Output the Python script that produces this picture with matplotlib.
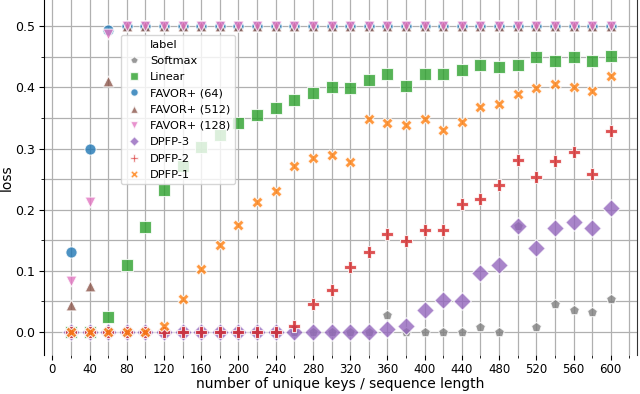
import numpy as np
import matplotlib
matplotlib.use("Agg")
import matplotlib.pyplot as plt
from matplotlib.lines import Line2D
from matplotlib.ticker import MultipleLocator

# sequence lengths / number of unique keys
keys = list(range(20, 601, 20))

softmax = [0, 0, 0, 0, 0, 0, 0, 0, 0, 0, 0, 0, 0, 0, 0, 0, 0,
           0.027, 0, 0, 0, 0, 0.008, 0, 0.173, 0.008, 0.045, 0.036, 0.032, 0.054]
linear = [0, 0, 0.025, 0.110, 0.172, 0.233, 0.272, 0.302, 0.323, 0.342,
          0.355, 0.366, 0.380, 0.391, 0.400, 0.399, 0.412, 0.422, 0.402, 0.422,
          0.422, 0.428, 0.437, 0.433, 0.436, 0.449, 0.444, 0.450, 0.443, 0.452]
favor_64 = [0.130, 0.299, 0.494] + [0.5] * 27
favor_512 = [0.044, 0.076, 0.410] + [0.5] * 27
favor_128 = [0.083, 0.212, 0.487] + [0.5] * 27
dpfp_3 = [0, 0, 0, 0, 0, 0, 0, 0, 0, 0, 0, 0, 0, 0, 0, 0, 0,
          0.005, 0.009, 0.036, 0.053, 0.051, 0.096, 0.110, 0.173, 0.137,
          0.170, 0.180, 0.170, 0.202]
dpfp_2 = [0, 0, 0, 0, 0, 0, 0, 0, 0, 0, 0, 0, 0.009, 0.046, 0.068, 0.106,
          0.130, 0.160, 0.148, 0.167, 0.166, 0.209, 0.217, 0.241, 0.281,
          0.253, 0.280, 0.295, 0.259, 0.328]
dpfp_1 = [0, 0, 0, 0, 0, 0.009, 0.054, 0.103, 0.143, 0.175, 0.213, 0.231,
          0.272, 0.285, 0.289, 0.278, 0.348, 0.341, 0.339, 0.348, 0.331,
          0.344, 0.368, 0.373, 0.390, 0.399, 0.405, 0.401, 0.394, 0.419]

labels = ["Softmax", "Linear", "FAVOR+ (64)", "FAVOR+ (512)", "FAVOR+ (128)",
          "DPFP-3", "DPFP-2", "DPFP-1"]
series = [softmax, linear, favor_64, favor_512, favor_128, dpfp_3, dpfp_2, dpfp_1]
colors = ["#7f7f7f", "#2ca02c", "#1f77b4", "#8c564b", "#e377c2",
          "#9467bd", "#d62728", "#ff7f0e"]
markers = ["p", "s", "o", "^", "v", "D", "P", "X"]
sizes = [55, 80, 65, 60, 60, 80, 70, 65]

fig = plt.figure(figsize=(6.4, 3.94), dpi=100)
ax = fig.add_axes([0.068, 0.1, 0.927, 0.9])

for lab, ys, c, m, s in zip(labels, series, colors, markers, sizes):
    ax.scatter(keys, ys, color=c, marker=m, s=s, alpha=0.8,
               edgecolor="white", linewidth=0.8, zorder=3)

ax.set_xlim(-9.5, 628)
ax.set_ylim(-0.037, 0.543)
ax.xaxis.set_major_locator(MultipleLocator(40))
ax.xaxis.set_minor_locator(MultipleLocator(20))
ax.yaxis.set_major_locator(MultipleLocator(0.1))
ax.yaxis.set_minor_locator(MultipleLocator(0.05))
ax.grid(True, which="both", color="#b0b0b0", linewidth=0.9)
ax.set_axisbelow(True)
ax.spines["top"].set_visible(False)
ax.spines["bottom"].set_visible(False)
ax.spines["right"].set_color("#333333")
ax.tick_params(axis="x", labelsize=8.5, length=3.5, pad=2.5)
ax.tick_params(axis="y", labelsize=9, length=3.5, pad=2.5)
ax.tick_params(which="minor", length=2)

ax.set_xlabel("number of unique keys / sequence length", fontsize=10, labelpad=1)
ax.set_ylabel("loss", fontsize=10, labelpad=1)

handles = [Line2D([], [], linestyle="none")]
for c, m in zip(colors, markers):
    handles.append(Line2D([], [], linestyle="none", marker=m, color=c,
                          markersize=5.5, alpha=0.8, markeredgecolor="white"))
ax.legend(handles, ["label"] + labels, loc="upper left",
          bbox_to_anchor=(0.13, 0.901), borderaxespad=0, fontsize=8.2,
          handlelength=1.6, handletextpad=0.6, labelspacing=0.55,
          framealpha=0.8)

fig.savefig("out.png", dpi=100)
